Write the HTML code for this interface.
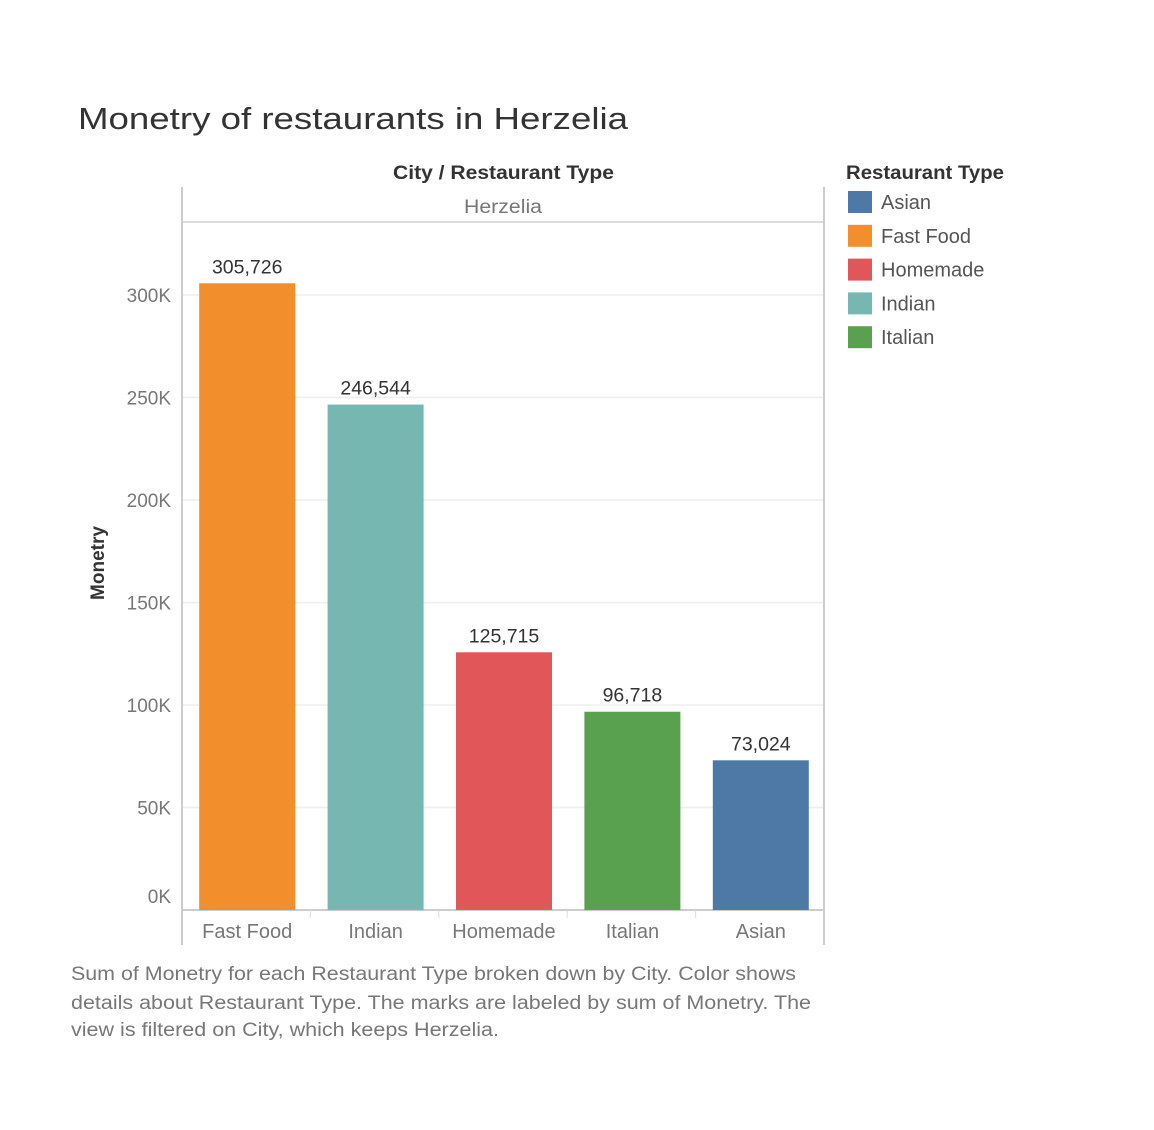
<!DOCTYPE html>
<html><head><meta charset="utf-8"><style>
body{margin:0;width:1154px;height:1125px;background:#fff;font-family:"Liberation Sans","DejaVu Sans",sans-serif;overflow:hidden}
svg text{font-family:"Liberation Sans","DejaVu Sans",sans-serif}
</style></head><body>
<svg id="c" width="1154" height="1125">
<text x="78" y="129" font-size="31" fill="#333" textLength="550" lengthAdjust="spacingAndGlyphs">Monetry of restaurants in Herzelia</text>
<text x="393" y="179" font-size="19" fill="#333" font-weight="bold" textLength="221" lengthAdjust="spacingAndGlyphs">City  /  Restaurant Type</text>
<text x="464" y="213" font-size="19" fill="#777" textLength="78" lengthAdjust="spacingAndGlyphs">Herzelia</text>
<line x1="182" y1="222" x2="824" y2="222" stroke="#ddd" stroke-width="2"/>
<line x1="182" y1="187" x2="182" y2="945" stroke="#ccc" stroke-width="2"/>
<line x1="824" y1="187" x2="824" y2="945" stroke="#ccc" stroke-width="2"/>
<line x1="182" y1="910" x2="824" y2="910" stroke="#ccc" stroke-width="2"/>
<g id="grid"></g><g id="bars"></g>
<text transform="translate(104,563) rotate(-90)" font-size="19" fill="#333" text-anchor="middle" font-weight="bold">Monetry</text>
<text x="846" y="179" font-size="19" fill="#333" font-weight="bold" textLength="158" lengthAdjust="spacingAndGlyphs">Restaurant Type</text>
<g id="legend"></g>
<g font-size="19" fill="#777">
<text x="71" y="980" textLength="725" lengthAdjust="spacingAndGlyphs">Sum of Monetry for each Restaurant Type broken down by City.  Color shows</text>
<text x="71" y="1009" textLength="740" lengthAdjust="spacingAndGlyphs">details about Restaurant Type.  The marks are labeled by sum of Monetry. The</text>
<text x="71" y="1036" textLength="428" lengthAdjust="spacingAndGlyphs">view is filtered on City, which keeps Herzelia.</text>
</g>
</svg>
<script>
const categories=["Fast Food","Indian","Homemade","Italian","Asian"];
const values=[305726,246544,125715,96718,73024];
const colors=["#f28e2b","#76b7b2","#e15759","#59a14f","#4e79a7"];
const ticks=[0,50000,100000,150000,200000,250000,300000];
const tickLabels=["0K","50K","100K","150K","200K","250K","300K"];
const legendItems=["Asian","Fast Food","Homemade","Indian","Italian"];
const legendColors=["#4e79a7","#f28e2b","#e15759","#76b7b2","#59a14f"];
const NS="http://www.w3.org/2000/svg";
const y=v=>910-v*(615/300000);
const band=128.4,x0=182,bw=96;
const x=i=>x0+1+i*band+(band-bw)/2;
function mk(t,a,p){const e=document.createElementNS(NS,t);for(const k in a)e.setAttribute(k,a[k]);p.appendChild(e);return e;}
const g=document.getElementById('grid'),b=document.getElementById('bars'),lg=document.getElementById('legend');
ticks.forEach((t,i)=>{
 if(t>0){const l=mk('line',{x1:183,x2:823,y1:y(t),y2:y(t),stroke:'#eee','stroke-width':1.5},g);
 
 }
 const tx=mk('text',{x:171,y:(t===0?y(t)-7:y(t)+7),'font-size':19,fill:'#777','text-anchor':'end'},g);
 tx.textContent=tickLabels[i];
 
 
});
for(let i=1;i<categories.length;i++){mk('line',{x1:x0+i*band,x2:x0+i*band,y1:910,y2:918,stroke:'#ddd'},g);}
categories.forEach((c,i)=>{
 const r=mk('rect',{x:x(i),y:y(values[i]),width:bw,height:910-y(values[i]),fill:colors[i]},b);
 
 
 const t=mk('text',{x:x(i)+bw/2,y:y(values[i])-10,'font-size':19.5,fill:'#333','text-anchor':'middle'},b);
 t.textContent=values[i].toLocaleString('en-US');
 
 
 const xl=mk('text',{x:x(i)+bw/2,y:938,'font-size':20,fill:'#777','text-anchor':'middle'},b);
 xl.textContent=c;
 
 
});
legendItems.forEach((n,i)=>{
 const yy=191+i*33.8;
 const r=mk('rect',{x:848,y:yy,width:24,height:22,fill:legendColors[i]},lg);
 
 
 const t=mk('text',{x:881,y:yy+18,'font-size':20,fill:'#555'},lg);
 t.textContent=n;
 
 
});
</script>
</body></html>
